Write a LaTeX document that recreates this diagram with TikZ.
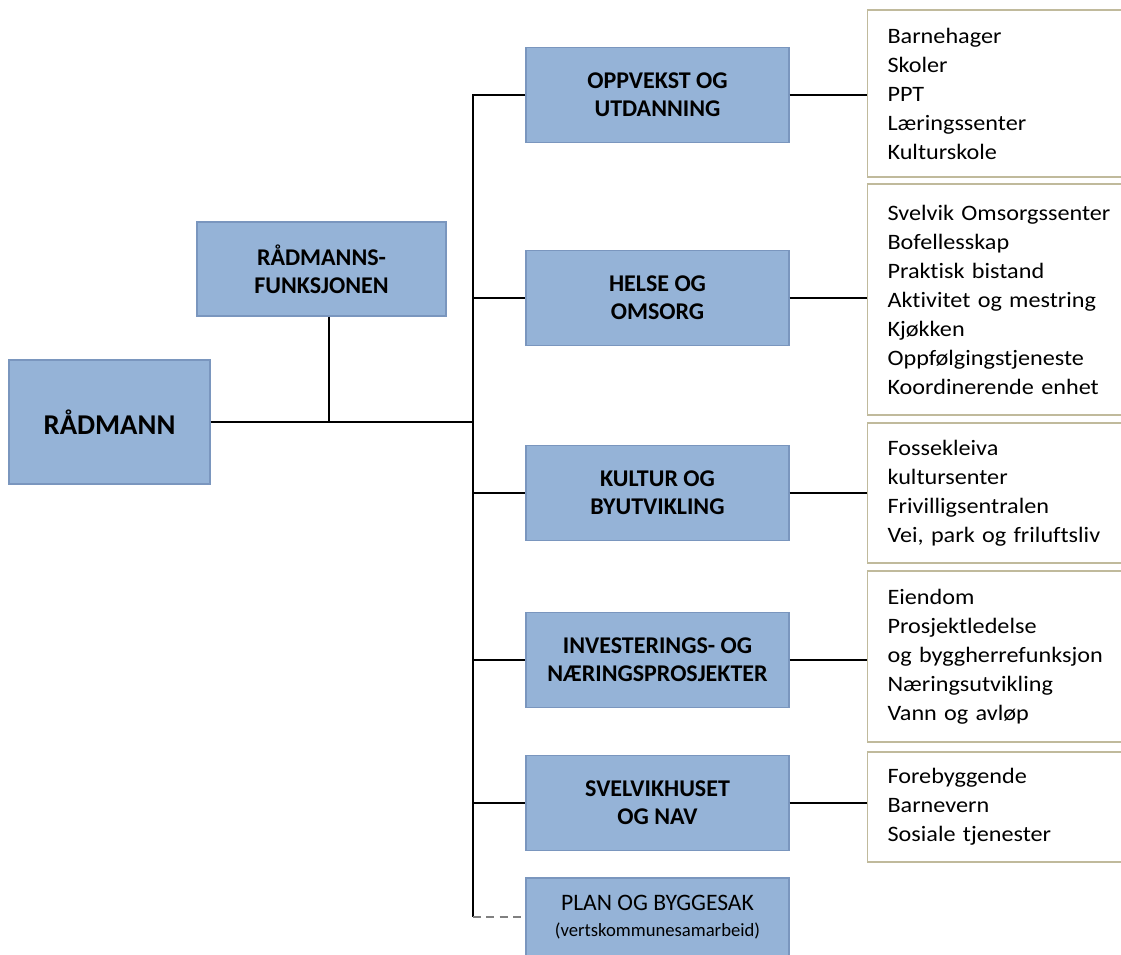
\documentclass[tikz,border=0pt]{standalone}
\usepackage{fontspec}
\setmainfont{Carlito}[Ligatures=NoCommon]
\newfontfamily\listefont{Carlito}[FakeStretch=1.1,Ligatures=NoCommon]
\definecolor{enhetfyll}{RGB}{149,179,215}
\definecolor{enhetkant}{RGB}{122,150,190}
\definecolor{listekant}{RGB}{192,186,156}
\begin{document}
\begin{tikzpicture}[x=0.75pt,y=-0.75pt]
\tikzstyle{every node}+=[inner sep=0pt]
\tikzstyle{enhet}=[draw=enhetkant, fill=enhetfyll, line width=0.8pt, minimum width=197.25pt, minimum height=71.25pt, align=center, font=\fontsize{18}{21}\selectfont\bfseries]
\tikzstyle{liste}=[draw=listekant, fill=white, line width=0.8pt, anchor=west, text width=200pt, inner xsep=15pt, align=left, font=\listefont\fontsize{16.5}{21.75}\selectfont]
\tikzstyle{linje}=[black, line width=1.4pt]
\useasboundingbox (0,0) rectangle (1121,954);
% venstre side
\node [enhet, minimum width=150.75pt, minimum height=93pt, font=\fontsize{21.5}{26}\selectfont\bfseries] (radmann) at (109.5,422) {RÅDMANN};
\node [enhet, minimum width=186.75pt, minimum height=70.5pt] (funksjon) at (321.5,269) {RÅDMANNS-\\FUNKSJONEN};
% enheter
\node [enhet] (oppvekst) at (657.5,95) {OPPVEKST OG\\UTDANNING};
\node [enhet] (helse) at (657.5,298) {HELSE OG\\OMSORG};
\node [enhet] (kultur) at (657.5,493) {KULTUR OG\\BYUTVIKLING};
\node [enhet] (invest) at (657.5,660) {INVESTERINGS- OG\\NÆRINGSPROSJEKTER};
\node [enhet] (svelvik) at (657.5,803) {SVELVIKHUSET\\OG NAV};
\node [enhet, minimum height=58.5pt, font=\fontsize{17.7}{20}\selectfont] (plan) at (657.5,917) {PLAN OG BYGGESAK\\{\fontsize{14}{17}\selectfont(vertskommunesamarbeid)}};
% lister
\node [liste, minimum height=125.25pt] (liste1) at (867,93.5) {Barnehager\\Skoler\\PPT\\Læringssenter\\Kulturskole};
\node [liste, minimum height=173.25pt] (liste2) at (867,299.5) {Svelvik Omsorgssenter\\Bofellesskap\\Praktisk bistand\\Aktivitet og mestring\\Kjøkken\\Oppfølgingstjeneste\\Koordinerende enhet};
\node [liste, minimum height=105pt] (liste3) at (867,493) {Fossekleiva\\kultursenter\\Frivilligsentralen\\Vei, park og friluftsliv};
\node [liste, minimum height=128.25pt] (liste4) at (867,656.5) {Eiendom\\Prosjektledelse\\og byggherrefunksjon\\Næringsutvikling\\Vann og avløp};
\node [liste, minimum height=82.5pt] (liste5) at (867,807) {Forebyggende\\Barnevern\\Sosiale tjenester};
% linjer
\coordinate (stamme) at (473,422);
\draw [linje] (radmann.east) -- (stamme);
\draw [linje] ([xshift=5.6pt]funksjon.south) -- ([xshift=5.6pt]funksjon.south |- stamme);
\draw [linje] (oppvekst.west) -- (oppvekst.west -| stamme) -- (plan.west -| stamme);
\foreach \enhet in {helse,kultur,invest,svelvik}
  \draw [linje] (\enhet.west -| stamme) -- (\enhet.west);
\draw [linje, gray, dash pattern=on 6pt off 4pt] (plan.west -| stamme) -- (plan.west);
\foreach \enhet/\liste in {oppvekst/liste1,helse/liste2,kultur/liste3,invest/liste4,svelvik/liste5}
  \draw [linje] (\enhet.east) -- (\liste.west |- \enhet.east);
\end{tikzpicture}
\end{document}
